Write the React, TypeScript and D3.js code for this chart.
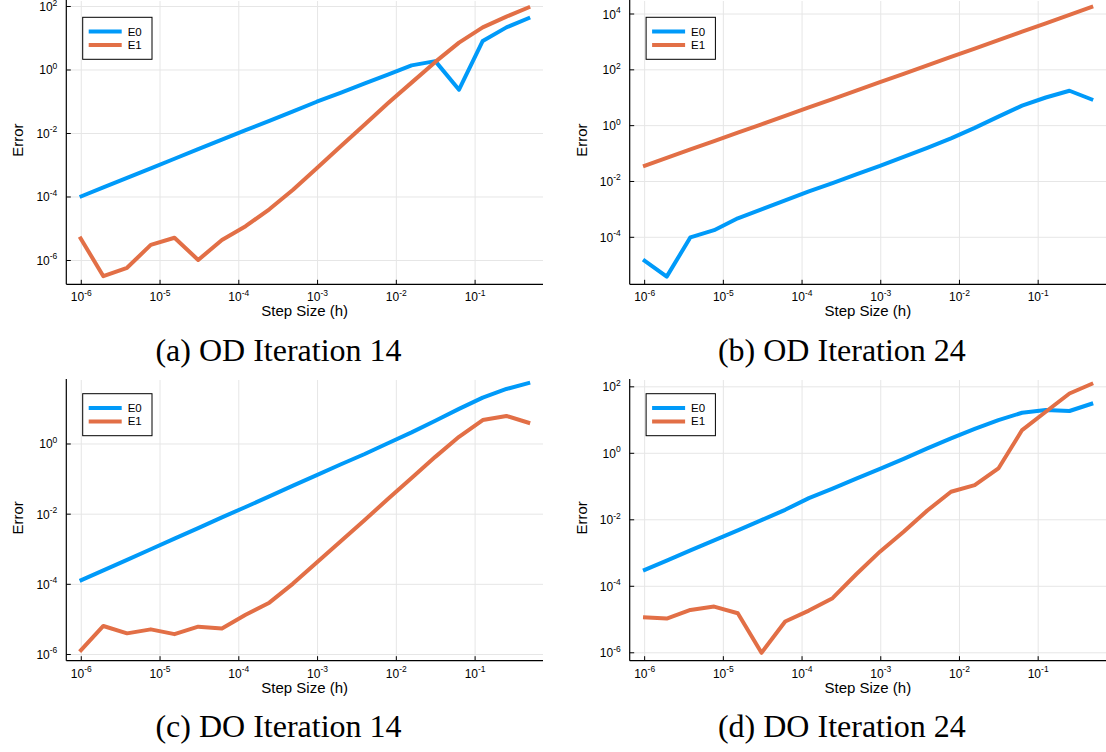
import React from "react";
import * as d3 from "d3";

// step sizes h = 2^-20 ... 2^-1
const stepSizes = [
  9.5367e-7, 1.9073e-6, 3.8147e-6, 7.6294e-6, 1.5259e-5, 3.0518e-5, 6.1035e-5,
  1.2207e-4, 2.4414e-4, 4.8828e-4, 9.7656e-4, 1.9531e-3, 3.9063e-3, 7.8125e-3,
  0.015625, 0.03125, 0.0625, 0.125, 0.25, 0.5,
];

const seriesNames = ["E0", "E1"];
const seriesColors = ["#009af9", "#e26f46"];

const odIter14E0 = [
  1.0e-4, 2.0e-4, 4.0e-4, 8.0e-4, 1.6e-3, 3.2e-3, 6.4e-3, 1.27e-2, 2.5e-2, 5.0e-2,
  0.1, 0.19, 0.37, 0.72, 1.4, 1.9, 0.24, 8.2, 22, 45,
];
const odIter14E1 = [
  5.6e-6, 3.2e-7, 5.9e-7, 3.1e-6, 5.2e-6, 1.04e-6, 4.4e-6, 1.2e-5, 4.1e-5, 1.7e-4,
  8.0e-4, 3.9e-3, 0.0185, 0.089, 0.4, 1.8, 7.3, 22, 48, 98,
];
const odIter24E0 = [
  1.6e-5, 3.9e-6, 1.0e-4, 1.8e-4, 4.8e-4, 1.0e-3, 2.1e-3, 4.4e-3, 8.7e-3, 1.8e-2,
  3.6e-2, 7.6e-2, 0.16, 0.35, 0.83, 2.1, 5.2, 10.2, 17.8, 8.3,
];
const odIter24E1 = [
  0.035, 0.07, 0.14, 0.28, 0.56, 1.12, 2.25, 4.5, 9.0, 18,
  36, 72, 145, 290, 580, 1160, 2330, 4650, 9300, 18600,
];
const doIter14E0 = [
  1.26e-4, 2.5e-4, 5.0e-4, 1.0e-3, 2.0e-3, 4.0e-3, 8.1e-3, 1.6e-2, 3.2e-2, 6.5e-2,
  0.13, 0.26, 0.51, 1.05, 2.15, 4.6, 10, 21, 37, 56,
];
const doIter14E1 = [
  1.2e-6, 6.5e-6, 4.0e-6, 5.2e-6, 3.8e-6, 6.2e-6, 5.5e-6, 1.35e-5, 3.0e-5, 1.05e-4,
  4.2e-4, 1.66e-3, 6.6e-3, 2.7e-2, 0.107, 0.43, 1.6, 4.8, 6.3, 3.9,
];
const doIter24E0 = [
  2.95e-4, 5.9e-4, 1.2e-3, 2.4e-3, 4.8e-3, 9.8e-3, 2.0e-2, 4.5e-2, 8.7e-2, 0.174,
  0.34, 0.68, 1.4, 2.8, 5.4, 10, 16.6, 20, 18.7, 32,
];
const doIter24E1 = [
  1.17e-5, 1.07e-5, 1.95e-5, 2.45e-5, 1.55e-5, 1.0e-6, 8.7e-6, 1.86e-5, 4.4e-5, 2.3e-4,
  1.1e-3, 4.4e-3, 0.019, 0.07, 0.11, 0.35, 5.0, 17.8, 63, 128,
];

const captions = [
  "(a) OD Iteration 14",
  "(b) OD Iteration 24",
  "(c) DO Iteration 14",
  "(d) DO Iteration 24",
];
const xTickExps = [-6, -5, -4, -3, -2, -1];
const yTickExps = [
  [-6, -4, -2, 0, 2],
  [-4, -2, 0, 2, 4],
  [-6, -4, -2, 0],
  [-6, -4, -2, 0, 2],
];
const xLabel = "Step Size (h)";
const yLabel = "Error";

// layout
const W = 1106;
const H = 752;
const colX = [
  [66.3, 543],
  [629.7, 1106],
];
const rowY = [
  [1, 284.3],
  [380, 660.7],
];
const yLogDomains = [
  [-6.75, 2.173],
  [-5.684, 4.466],
  [-6.177, 1.824],
  [-6.238, 2.205],
];
const xLogDomain = [-6.19, -0.138];

const sans = "'Liberation Sans', Arial, Helvetica, sans-serif";
const serif = "'Liberation Serif', 'Times New Roman', serif";

const panels = [
  { series: [odIter14E0, odIter14E1], col: 0, row: 0 },
  { series: [odIter24E0, odIter24E1], col: 1, row: 0 },
  { series: [doIter14E0, doIter14E1], col: 0, row: 1 },
  { series: [doIter24E0, doIter24E1], col: 1, row: 1 },
];

function Pow10({ x, y, exp, anchor }: { x: number; y: number; exp: number; anchor: string }) {
  return (
    <text x={x} y={y} textAnchor={anchor} fontFamily={sans} fontSize={12} fill="#000">
      10
      <tspan dy={-5.5} fontSize={8.5}>
        {exp < 0 ? `-${-exp}` : `${exp}`}
      </tspan>
    </text>
  );
}

function Panel({ idx }: { idx: number }) {
  const p = panels[idx];
  const [x0, x1] = colX[p.col];
  const [y0, y1] = rowY[p.row];
  const [ylo, yhi] = yLogDomains[idx];

  const x = d3
    .scaleLog()
    .domain([10 ** xLogDomain[0], 10 ** xLogDomain[1]])
    .range([x0, x1]);
  const y = d3
    .scaleLog()
    .domain([10 ** ylo, 10 ** yhi])
    .range([y1, y0]);

  const line = d3
    .line<number>()
    .x((_, i) => x(stepSizes[i]))
    .y((d) => y(d));

  const legL = x0 + 16.4;
  const legT = y1 - 267;
  const clipId = `clip${idx}`;

  return (
    <g>
      <defs>
        <clipPath id={clipId}>
          <rect x={x0} y={y0 - 3} width={x1 - x0} height={y1 - y0 + 3} />
        </clipPath>
      </defs>
      {/* grid */}
      {xTickExps.map((e) => (
        <line key={"gx" + e} x1={x(10 ** e)} x2={x(10 ** e)} y1={y0} y2={y1} stroke="#e6e6e6" strokeWidth={1} />
      ))}
      {yTickExps[idx].map((e) => (
        <line key={"gy" + e} x1={x0} x2={x1} y1={y(10 ** e)} y2={y(10 ** e)} stroke="#e6e6e6" strokeWidth={1} />
      ))}
      {/* series */}
      <g clipPath={`url(#${clipId})`}>
        {p.series.map((s, i) => (
          <path
            key={i}
            d={line(s) || ""}
            fill="none"
            stroke={seriesColors[i]}
            strokeWidth={4}
            strokeLinejoin="round"
          />
        ))}
      </g>
      {/* axes */}
      <line x1={x0} x2={x1} y1={y1} y2={y1} stroke="#000" strokeWidth={1.2} />
      <line x1={x0} x2={x0} y1={y0 - 1} y2={y1} stroke="#000" strokeWidth={1.2} />
      {xTickExps.map((e) => (
        <g key={"tx" + e}>
          <line x1={x(10 ** e)} x2={x(10 ** e)} y1={y1} y2={y1 - 4.5} stroke="#000" strokeWidth={1} />
          <Pow10 x={x(10 ** e)} y={y1 + 17} exp={e} anchor="middle" />
        </g>
      ))}
      {yTickExps[idx].map((e) => (
        <g key={"ty" + e}>
          <line x1={x0} x2={x0 + 4.5} y1={y(10 ** e)} y2={y(10 ** e)} stroke="#000" strokeWidth={1} />
          <Pow10 x={x0 - 9} y={y(10 ** e) + 4.5} exp={e} anchor="end" />
        </g>
      ))}
      {/* axis labels */}
      <text
        x={(x0 + x1) / 2}
        y={y1 + 32}
        textAnchor="middle"
        fontFamily={sans}
        fontSize={15}
        fill="#000"
      >
        {xLabel}
      </text>
      <text
        transform={`translate(${x0 - 43},${(y0 + y1) / 2 - 2.5}) rotate(-90)`}
        textAnchor="middle"
        fontFamily={sans}
        fontSize={15}
        fill="#000"
      >
        {yLabel}
      </text>
      {/* legend */}
      <rect x={legL} y={legT} width={69.3} height={42} fill="#fff" stroke="#000" strokeWidth={1} />
      {seriesNames.map((n, i) => (
        <g key={n}>
          <line
            x1={legL + 6}
            x2={legL + 39}
            y1={legT + 14.3 + i * 13.4}
            y2={legT + 14.3 + i * 13.4}
            stroke={seriesColors[i]}
            strokeWidth={4}
          />
          <text x={legL + 45} y={legT + 18.3 + i * 13.4} fontFamily={sans} fontSize={11.5} fill="#000">
            {n}
          </text>
        </g>
      ))}
      {/* caption */}
      <text
        x={x0 + 212.2}
        y={y1 + 76.5}
        textAnchor="middle"
        fontFamily={serif}
        fontSize={32}
        fill="#000"
      >
        {captions[idx]}
      </text>
    </g>
  );
}

export default function App() {
  return (
    <div style={{ position: "absolute", left: 0, top: 0 }}>
      <svg width={W} height={H} style={{ display: "block", background: "#fff" }}>
        <rect width={W} height={H} fill="#fff" />
        {panels.map((_, i) => (
          <Panel key={i} idx={i} />
        ))}
      </svg>
    </div>
  );
}
